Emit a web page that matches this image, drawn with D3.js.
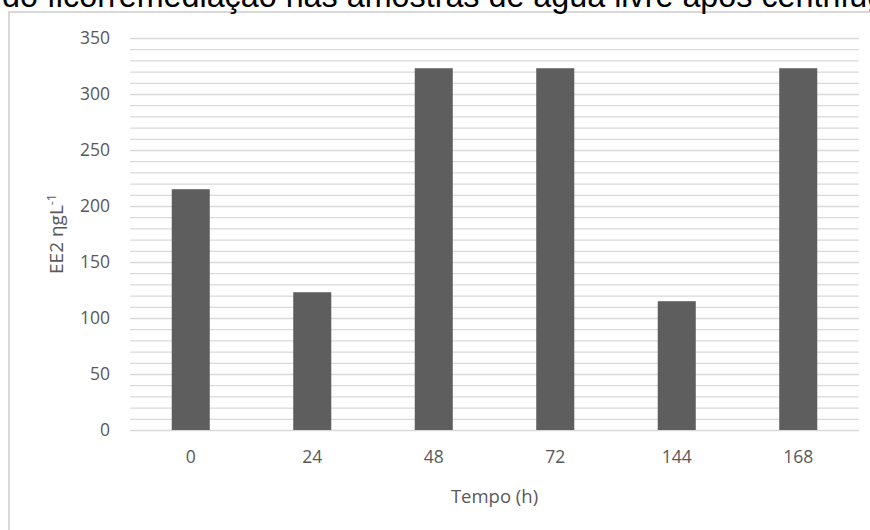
<!DOCTYPE html>
<html><head><meta charset="utf-8">
<script src="https://cdn.jsdelivr.net/npm/d3@7"></script>
<style>body{margin:0;background:#fff;overflow:hidden}</style>
</head><body>
<svg id="c" width="870" height="530"></svg>
<script>
const categories = ["0", "24", "48", "72", "144", "168"];
const values = [215, 123, 323, 323, 115, 323];
const yTicks = [0, 50, 100, 150, 200, 250, 300, 350];
const yMinorStep = 10;
const titleText = "do ficorremediação nas amostras de água livre após centrifugação";
const yLabelMain = "EE2 ηgL";
const yLabelSup = "-1";
const xLabel = "Tempo (h)";

(function () {
const svg = d3.select("#c");
const pL = 130, pR = 859, pT = 38, pB = 430;
const tickFont = "'Open Sans', 'Noto Sans', sans-serif";
const txt = "#595959";

// frame
svg.append("rect").attr("x", 9).attr("y", 12).attr("width", 960).attr("height", 600)
  .attr("fill", "#fff").attr("stroke", "#d9d9d9").attr("stroke-width", 2);

// title (cropped at the top, as in the reference)
svg.append("text").attr("x", 2).attr("y", 7)
  .attr("font-family", "'Liberation Sans', Arial, sans-serif")
  .attr("font-size", 32.3).attr("fill", "#000")
  .text(titleText);

const x = d3.scaleBand().domain(categories).range([pL, pR])
  .paddingInner(0.687).paddingOuter(0.3435);
const y = d3.scaleLinear().domain([0, 350]).range([pB, pT]);

// gridlines (minor every 10)
const gridVals = d3.range(0, 350 + 1, yMinorStep);
const grid = svg.append("g").attr("transform", `translate(${pL},0)`)
  .call(d3.axisLeft(y).tickValues(gridVals).tickSize(-(pR - pL)).tickFormat(""));
grid.select(".domain").remove();
grid.selectAll("line").attr("stroke", "#d9d9d9").attr("stroke-width", 1.3);

// bars
svg.append("g").selectAll("rect").data(values).join("rect")
  .attr("x", (d, i) => x(categories[i]))
  .attr("y", d => y(d))
  .attr("width", x.bandwidth())
  .attr("height", d => y(0) - y(d))
  .attr("fill", "#5e5e5e");

// y axis labels
const ya = svg.append("g").attr("transform", `translate(${pL - 20},0)`)
  .call(d3.axisLeft(y).tickValues(yTicks).tickSize(0).tickPadding(0));
ya.select(".domain").remove();
ya.selectAll("text").attr("font-family", tickFont).attr("font-size", 17.5).attr("fill", txt);

// x axis labels
const xa = svg.append("g").attr("transform", `translate(0,${pB})`)
  .call(d3.axisBottom(x).tickSize(0).tickPadding(21));
xa.select(".domain").remove();
xa.selectAll("text").attr("font-family", tickFont).attr("font-size", 17.5).attr("fill", txt);

// axis titles
svg.append("text").attr("x", (pL + pR) / 2).attr("y", 503)
  .attr("text-anchor", "middle").attr("font-family", tickFont)
  .attr("font-size", 18.5).attr("fill", txt).text(xLabel);

const yl = svg.append("text").attr("transform", "translate(63,234) rotate(-90)")
  .attr("text-anchor", "middle").attr("font-family", tickFont)
  .attr("font-size", 19).attr("fill", txt);
yl.append("tspan").text(yLabelMain);
yl.append("tspan").attr("font-size", 12.5).attr("dy", -7).text(yLabelSup);
})();
</script>
</body></html>
